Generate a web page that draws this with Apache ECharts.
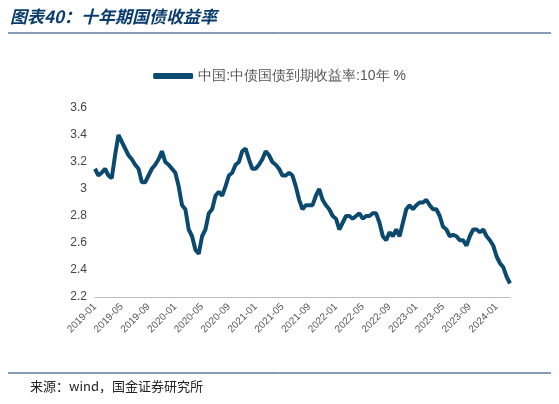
<!DOCTYPE html>
<html><head><meta charset="utf-8">
<script src="https://cdn.jsdelivr.net/npm/echarts@6/dist/echarts.min.js"></script>
<style>html,body{margin:0;padding:0;background:#fff}#c{width:559px;height:404px}</style>
</head><body><div id="c"></div>
<script>
const months = ["2019-01","2019-02","2019-03","2019-04","2019-05","2019-06","2019-07","2019-08","2019-09","2019-10","2019-11","2019-12",
"2020-01","2020-02","2020-03","2020-04","2020-05","2020-06","2020-07","2020-08","2020-09","2020-10","2020-11","2020-12",
"2021-01","2021-02","2021-03","2021-04","2021-05","2021-06","2021-07","2021-08","2021-09","2021-10","2021-11","2021-12",
"2022-01","2022-02","2022-03","2022-04","2022-05","2022-06","2022-07","2022-08","2022-09","2022-10","2022-11","2022-12",
"2023-01","2023-02","2023-03","2023-04","2023-05","2023-06","2023-07","2023-08","2023-09","2023-10","2023-11","2023-12",
"2024-01","2024-02","2024-03"];
const yields = [3.15,3.10, 3.12,3.15, 3.10,3.08, 3.25,3.40, 3.35,3.30, 3.25,3.22, 3.18,3.15, 3.05,3.05, 3.10,3.15, 3.18,3.22, 3.28,3.20, 3.18,3.15,
3.12,3.02, 2.88,2.85, 2.70,2.65, 2.55,2.52, 2.65,2.70, 2.82,2.85, 2.95,2.98, 2.95,3.02, 3.10,3.12, 3.18,3.20, 3.28,3.30, 3.22,3.15,
3.15,3.18, 3.22,3.28, 3.25,3.20, 3.18,3.15, 3.10,3.10, 3.12,3.10, 3.02,2.92, 2.85,2.88, 2.88,2.88, 2.95,3.00, 2.92,2.88, 2.85,2.80,
2.78,2.70, 2.75,2.80, 2.80,2.78, 2.80,2.82, 2.78,2.80, 2.80,2.82, 2.82,2.75, 2.65,2.62, 2.68,2.65, 2.70,2.65, 2.75,2.85, 2.88,2.85,
2.88,2.90, 2.90,2.92, 2.88,2.85, 2.85,2.80, 2.72,2.70, 2.65,2.66, 2.65,2.62, 2.62,2.58, 2.65,2.70, 2.70,2.68, 2.70,2.65, 2.62,2.58,
2.50,2.45, 2.42,2.35, 2.30];
const tickLabels = ["2019-01","2019-05","2019-09","2020-01","2020-05","2020-09","2021-01","2021-05","2021-09","2022-01","2022-05","2022-09","2023-01","2023-05","2023-09","2024-01"];
const seriesName = "中国:中债国债到期收益率:10年 %";

const cats = [];
months.forEach((m,i)=>{ cats.push(m); if(i<months.length-1) cats.push(m+"-b"); });
const shown = new Set();
const ch = echarts.init(document.getElementById('c'));
ch.setOption({
  animation:false,
  graphic:[
    {type:'text',left:10,top:8,style:{text:'图表40：十年期国债收益率',font:'italic bold 17px "Noto Sans CJK SC"',fill:'#0b3c6e'}},
    {type:'line',shape:{x1:8,y1:33,x2:551,y2:33},style:{stroke:'#0b3c6e',lineWidth:1}},
    {type:'line',shape:{x1:8,y1:373,x2:551,y2:373},style:{stroke:'#0b3c6e',lineWidth:1}},
    {type:'text',left:30,top:380,style:{text:'来源：wind，国金证券研究所',font:'13px "Noto Sans CJK SC"',fill:'#222'}}
  ],
  legend:{top:64,left:'center',itemWidth:40,itemHeight:6,textStyle:{fontSize:14,color:'#555'},icon:'roundRect',data:[seriesName]},
  grid:{left:95,right:49,top:108,bottom:107},
  xAxis:{type:'category',data:cats,boundaryGap:false,
    axisLine:{lineStyle:{color:'#bbb'}},axisTick:{show:false},
    axisLabel:{rotate:45,fontSize:10,color:'#555',interval:(i,v)=>tickLabels.includes(v)},
  },
  yAxis:{type:'value',min:2.2,max:3.6,interval:0.2,splitLine:{show:false},axisLine:{show:false},axisTick:{show:false},
    axisLabel:{fontSize:12,color:'#444',formatter:v=>String(+v.toFixed(1))}},
  series:[{name:seriesName,type:'line',data:yields,showSymbol:false,lineStyle:{width:4,color:'#0b4a6e'},itemStyle:{color:'#0b4a6e'}}]
});
</script></body></html>
